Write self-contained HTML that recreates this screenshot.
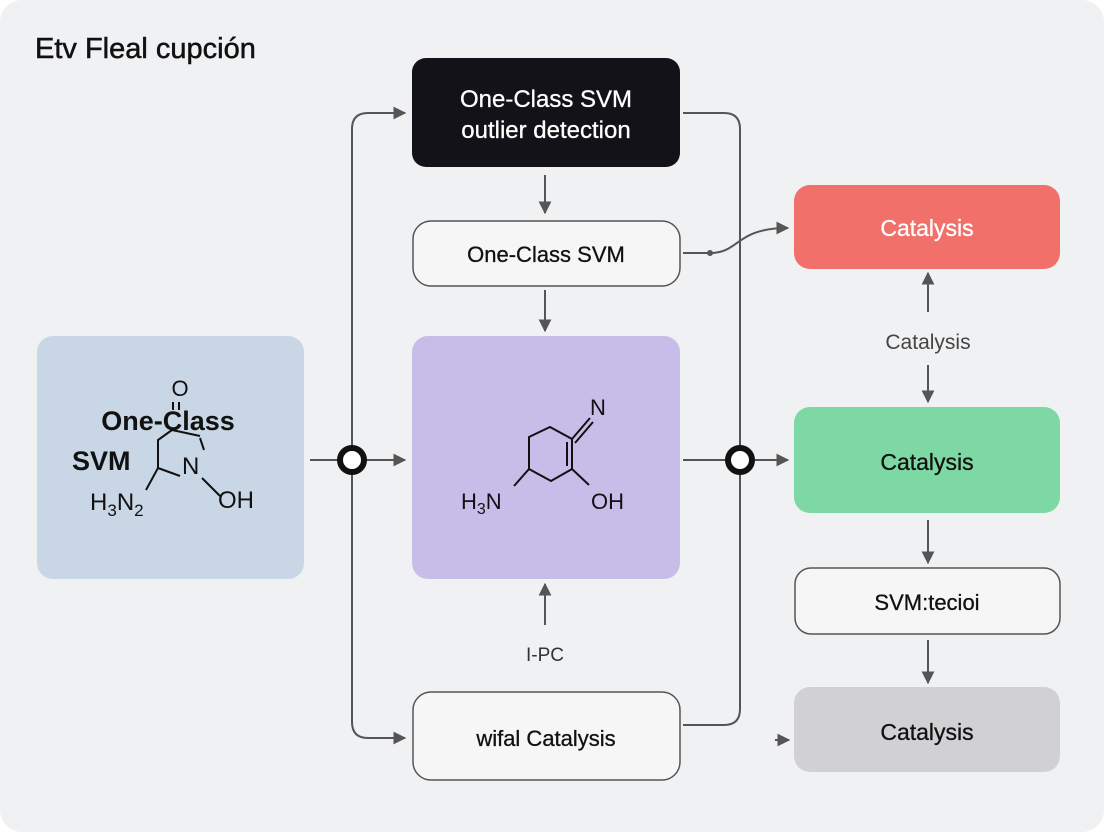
<!DOCTYPE html>
<html><head><meta charset="utf-8"><style>
html,body{margin:0;padding:0;background:#fff;}
svg{display:block;font-family:"Liberation Sans",sans-serif;}
</style></head><body>
<svg width="1104" height="832" viewBox="0 0 1104 832" xmlns="http://www.w3.org/2000/svg">
<defs>
<marker id="a" viewBox="0 0 10 10" refX="9" refY="5" markerWidth="6.5" markerHeight="6.5" orient="auto"><path d="M0,0 L10,5 L0,10 z" fill="#555"/></marker>
</defs>
<rect x="0" y="0" width="1104" height="832" rx="22" fill="#f0f1f3"/>
<text x="35" y="58" font-size="29" fill="#111" stroke="#111" stroke-width="0.5">Etv Fleal cupción</text>

<g stroke="#555" stroke-width="2" fill="none">
<path d="M405,113 H368 Q352,113 352,129 V722 Q352,738 368,738 H405" marker-end="url(#a)"/>
<path d="M368,113 H405" marker-end="url(#a)"/>
<path d="M683,113 H724 Q740,113 740,129 V709 Q740,725 724,725 H683"/>
<path d="M310,460 H340"/><path d="M366,460 H405" marker-end="url(#a)"/>
<path d="M683,460 H728"/><path d="M753,460 H788" marker-end="url(#a)"/>
<path d="M545,175 V213" marker-end="url(#a)"/>
<path d="M545,290 V331" marker-end="url(#a)"/>
<path d="M545,625 V584" marker-end="url(#a)"/>
<path d="M683,253 H710 C740,253 735,228 788,228" marker-end="url(#a)"/>
<path d="M928,312 V273" marker-end="url(#a)"/>
<path d="M928,365 V402" marker-end="url(#a)"/>
<path d="M928,520 V563" marker-end="url(#a)"/>
<path d="M928,640 V683" marker-end="url(#a)"/>
<path d="M775,740 H789" marker-end="url(#a)"/>
</g>
<circle cx="710" cy="253" r="3" fill="#555"/>
<circle cx="352" cy="460" r="12" fill="#fff" stroke="#111" stroke-width="6"/>
<circle cx="740" cy="460" r="12" fill="#fff" stroke="#111" stroke-width="6"/>

<rect x="37" y="336" width="267" height="243" rx="16" fill="#c9d6e6"/>
<g stroke="#111" stroke-width="2" fill="none">
<path d="M173,402 V410 M179,402 V410"/>
<path d="M200,436 L172,430 L158,440 V468 L146,490"/>
<path d="M158,468 L180,476"/>
<path d="M200,438 L204,450"/>
<path d="M202,478 L220,496"/>
</g>
<text x="180" y="396" font-size="22" text-anchor="middle" fill="#111">O</text>
<text x="168" y="430" font-size="27" text-anchor="middle" fill="#111" font-weight="bold">One-Class</text>
<text x="72" y="470" font-size="27" fill="#111" font-weight="bold">SVM</text>
<text x="182" y="474" font-size="24" fill="#111">N</text>
<text x="90" y="510" font-size="24" fill="#111">H<tspan font-size="17" dy="6">3</tspan><tspan dy="-6">N</tspan><tspan font-size="17" dy="6">2</tspan></text>
<text x="218" y="508" font-size="24" fill="#111">OH</text>

<rect x="412" y="58" width="268" height="109" rx="14" fill="#121218"/>
<text x="546" y="107" font-size="24" text-anchor="middle" fill="#fff" stroke="#fff" stroke-width="0.3">One-Class SVM</text>
<text x="546" y="138" font-size="24" text-anchor="middle" fill="#fff" stroke="#fff" stroke-width="0.3">outlier detection</text>
<rect x="413" y="221" width="267" height="65" rx="18" fill="#f6f6f7" stroke="#555" stroke-width="1.5"/>
<text x="546" y="262" font-size="22" text-anchor="middle" fill="#111" stroke="#111" stroke-width="0.3">One-Class SVM</text>
<rect x="412" y="336" width="268" height="243" rx="16" fill="#c7bde9"/>
<g stroke="#111" stroke-width="2" fill="none">
<path d="M529,469 V437 L550,427 L572,439 V469 L551,481 Z"/>
<path d="M567,442 V466"/>
<path d="M572,439 L590,418 M575,443 L593,422"/>
<path d="M529,469 L514,486"/>
<path d="M572,469 L589,485"/>
</g>
<text x="590" y="415" font-size="22" fill="#111">N</text>
<text x="461" y="509" font-size="22" fill="#111">H<tspan font-size="16" dy="5">3</tspan><tspan dy="-5">N</tspan></text>
<text x="591" y="509" font-size="22" fill="#111">OH</text>
<text x="545" y="661" font-size="19" text-anchor="middle" fill="#333">I-PC</text>
<rect x="413" y="692" width="267" height="88" rx="18" fill="#f6f6f7" stroke="#555" stroke-width="1.5"/>
<text x="546" y="746" font-size="22" text-anchor="middle" fill="#111" stroke="#111" stroke-width="0.3">wifal Catalysis</text>

<rect x="794" y="185" width="266" height="84" rx="16" fill="#f2706a"/>
<text x="927" y="236" font-size="23" text-anchor="middle" fill="#fff" stroke="#fff" stroke-width="0.3">Catalysis</text>
<text x="928" y="349" font-size="21" text-anchor="middle" fill="#444">Catalysis</text>
<rect x="794" y="407" width="266" height="106" rx="16" fill="#7dd8a4"/>
<text x="927" y="470" font-size="23" text-anchor="middle" fill="#111" stroke="#111" stroke-width="0.3">Catalysis</text>
<rect x="795" y="568" width="265" height="66" rx="16" fill="#f6f6f7" stroke="#555" stroke-width="1.5"/>
<text x="927" y="610" font-size="22" text-anchor="middle" fill="#111" stroke="#111" stroke-width="0.3">SVM:tecioi</text>
<rect x="794" y="687" width="266" height="85" rx="16" fill="#d1d1d4"/>
<text x="927" y="740" font-size="23" text-anchor="middle" fill="#111" stroke="#111" stroke-width="0.3">Catalysis</text>
</svg>
</body></html>
